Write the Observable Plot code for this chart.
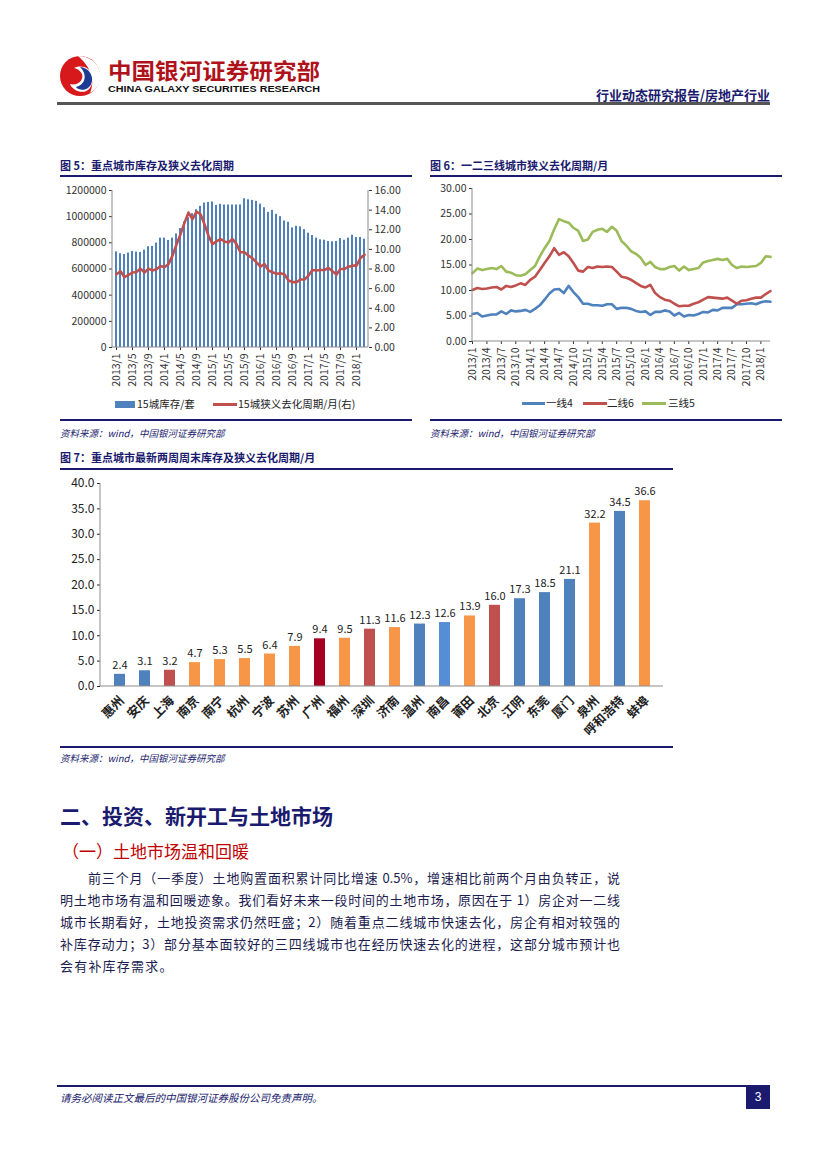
<!DOCTYPE html>
<html><head><meta charset="utf-8">
<script src="https://cdn.jsdelivr.net/npm/d3@7"></script>
<script src="https://cdn.jsdelivr.net/npm/@observablehq/plot@0.6"></script>
<style>
body{margin:0;background:#fff;}
#page{position:relative;width:827px;height:1169px;overflow:hidden;font-family:"Noto Sans CJK SC",sans-serif;background:#fff;}
.abs{position:absolute;white-space:nowrap;}
.ctitle{font-size:11px;font-weight:bold;color:#1a1a6e;line-height:14px;}
.hr{position:absolute;height:2px;background:#1a1a6e;}
.src{font-size:9.5px;font-style:italic;color:#1a1a6e;line-height:12px;}
.leg{font-size:10.5px;color:#222;line-height:12px;}
.para{position:absolute;left:60px;width:560px;font-size:13px;color:#1c1c50;line-height:16px;text-align:justify;text-align-last:justify;white-space:nowrap;}
</style></head>
<body><div id="page">

<svg class="abs" style="left:0;top:0" width="827" height="110">
  <g transform="translate(80,76)">
    <circle r="20" fill="#D7191C"/>
    <path d="M-2,-20 C22,-20 28,8 10,17 C16,4 10,-10 -2,-20 Z" fill="#fff"/>
    <path d="M-6,-8 C8,-14 18,0 10,12 C4,20 -8,14 -10,8 C-2,10 4,4 2,-2 C0,-6 -4,-8 -6,-8 Z" fill="#fff"/>
    <path d="M0,-9 C12,-8 16,6 8,12 C4,15 -2,14 -4,11 C4,9 6,2 4,-3 C3,-6 1,-8 0,-9 Z" fill="#1F3A93"/>
  </g>
  <text x="108" y="79" font-size="22" font-weight="bold" fill="#B0121B" textLength="212" lengthAdjust="spacingAndGlyphs" font-family="Noto Sans CJK SC">中国银河证券研究部</text>
  <text x="108" y="92" font-size="9.5" font-weight="bold" fill="#111" textLength="212" lengthAdjust="spacingAndGlyphs" font-family="Liberation Sans, Arial">CHINA GALAXY SECURITIES RESEARCH</text>
  <text x="770" y="100" font-size="13" font-weight="bold" fill="#1a1a6e" text-anchor="end" font-family="Noto Sans CJK SC">行业动态研究报告/房地产行业</text>
  <rect x="57" y="102" width="713" height="3" fill="#555"/>
</svg>

<div class="abs ctitle" style="left:60px;top:158px">图 5：重点城市库存及狭义去化周期</div>
<div class="hr" style="left:60px;top:175px;width:352px"></div>
<div class="abs" id="c5" style="left:55px;top:182px"></div>
<div class="abs" style="left:115px;top:401px;width:20px;height:7px;background:#4F81BD"></div>
<div class="abs leg" style="left:137px;top:398px">15城库存/套</div>
<div class="abs" style="left:213px;top:403px;width:24px;height:3px;background:#C0504D"></div>
<div class="abs leg" style="left:238px;top:398px">15城狭义去化周期/月(右)</div>
<div class="hr" style="left:60px;top:419px;width:352px"></div>
<div class="abs src" style="left:60px;top:427px">资料来源：wind，中国银河证券研究部</div>

<div class="abs ctitle" style="left:430px;top:158px">图 6：一二三线城市狭义去化周期/月</div>
<div class="hr" style="left:430px;top:175px;width:352px"></div>
<div class="abs" id="c6" style="left:425px;top:178px"></div>
<div class="abs" style="left:522px;top:402px;width:23px;height:3px;background:#4F81BD"></div>
<div class="abs leg" style="left:546px;top:397px">一线4</div>
<div class="abs" style="left:583px;top:402px;width:24px;height:3px;background:#C0504D"></div>
<div class="abs leg" style="left:607px;top:397px">二线6</div>
<div class="abs" style="left:642px;top:402px;width:24px;height:3px;background:#9BBB59"></div>
<div class="abs leg" style="left:668px;top:397px">三线5</div>
<div class="hr" style="left:430px;top:419px;width:352px"></div>
<div class="abs src" style="left:430px;top:427px">资料来源：wind，中国银河证券研究部</div>

<div class="abs ctitle" style="left:60px;top:450px">图 7：重点城市最新两周周末库存及狭义去化周期/月</div>
<div class="hr" style="left:60px;top:468px;width:613px"></div>
<div class="abs" id="c7" style="left:55px;top:474px"></div>
<div class="hr" style="left:60px;top:746px;width:613px"></div>
<div class="abs src" style="left:60px;top:752px">资料来源：wind，中国银河证券研究部</div>

<div class="abs" style="left:60px;top:801px;font-size:21px;font-weight:bold;color:#1a1a6e;line-height:28px">二、投资、新开工与土地市场</div>
<div class="abs" style="left:62px;top:839px;font-size:17px;color:#C00000;line-height:24px">（一）土地市场温和回暖</div>
<div class="para" style="top:870px;left:88px;width:532px">前三个月（一季度）土地购置面积累计同比增速 0.5%，增速相比前两个月由负转正，说</div>
<div class="para" style="top:892px">明土地市场有温和回暖迹象。我们看好未来一段时间的土地市场，原因在于 1）房企对一二线</div>
<div class="para" style="top:914px">城市长期看好，土地投资需求仍然旺盛；2）随着重点二线城市快速去化，房企有相对较强的</div>
<div class="para" style="top:936px">补库存动力；3）部分基本面较好的三四线城市也在经历快速去化的进程，这部分城市预计也</div>
<div class="para" style="top:958px;width:auto;text-align-last:auto;letter-spacing:1.2px">会有补库存需求。</div>

<div class="hr" style="left:57px;top:1085px;width:713px"></div>
<div class="abs" style="left:60px;top:1090px;font-size:10.5px;font-style:italic;color:#1a1a6e">请务必阅读正文最后的中国银河证券股份公司免责声明。</div>
<div class="abs" style="left:746px;top:1085px;width:24px;height:24px;background:#1a1a6e;color:#fff;font-size:12px;text-align:center;line-height:24px;font-family:Liberation Sans,Arial">3</div>

</div>
<script>
// ---------- Data ----------
const months = [];
for (let y = 2013; y <= 2018; y++) for (let m = 1; m <= 12; m++) { if (y === 2018 && m > 3) break; months.push(y + "/" + m); }

const inventory15 = [731000,717000,711000,722000,734000,729000,727000,744000,770000,772000,798000,836000,836000,818000,836000,868000,909000,960000,993000,1023000,1053000,1079000,1104000,1109000,1112000,1086000,1094000,1089000,1089000,1089000,1089000,1090000,1137000,1129000,1124000,1117000,1096000,1068000,1033000,1048000,1018000,1000000,967000,957000,914000,927000,922000,901000,874000,856000,836000,823000,820000,810000,808000,810000,833000,820000,836000,858000,841000,841000,828000];
const cycle15 = [7.47,7.77,7.16,7.4,7.64,7.7,8.04,7.64,8.04,7.84,7.97,8.3,8.18,8.5,9.36,10.5,11.55,12.7,13.75,13.07,13.85,13.58,12.57,11.39,10.54,10.81,11.05,10.81,10.71,11.05,10.54,9.7,9.7,9.36,9.09,8.68,8.24,8.51,7.84,7.67,7.5,7.57,7.43,6.82,6.66,6.66,6.93,6.93,7.33,7.9,7.84,7.9,7.9,8.11,7.77,7.43,8.0,8.0,8.24,8.34,8.34,9.12,9.46];

const tier1 = [5.4,5.6,4.9,5.1,5.3,5.3,5.9,5.4,6.1,5.9,6.0,6.2,5.8,6.4,7.1,8.2,9.4,10.2,10.3,9.5,10.9,9.7,8.7,7.4,7.4,7.1,7.1,7.0,7.3,7.3,6.4,6.6,6.6,6.4,6.0,5.8,5.9,5.2,5.8,5.8,6.1,5.9,5.1,5.6,4.9,5.2,5.1,5.4,5.8,5.7,6.2,6.1,6.6,6.6,6.6,7.3,7.3,7.4,7.5,7.3,7.7,7.9,7.8];
const tier2 = [10.1,10.5,10.3,10.4,10.6,10.7,10.2,10.9,10.7,11.0,11.4,11.1,12.1,12.7,14.0,15.4,16.7,18.3,17.0,17.5,16.7,15.4,13.9,13.7,14.6,14.4,14.7,14.6,14.7,14.6,13.7,12.7,12.5,12.1,11.5,10.9,10.6,11.1,9.5,8.7,8.2,8.0,7.4,6.9,7.0,7.0,7.4,7.7,8.2,8.7,8.6,8.5,8.4,8.6,8.0,7.4,8.0,8.1,8.4,8.6,8.6,9.3,9.9];
const tier3 = [13.4,14.3,14.0,14.2,14.4,14.2,14.8,13.7,13.5,13.0,12.9,13.2,14.0,14.8,16.7,18.3,19.7,22.0,24.0,23.6,23.3,22.3,21.7,19.7,20.0,21.5,21.9,22.1,21.5,22.5,21.7,19.7,18.8,17.7,17.2,16.4,15.0,15.6,14.6,14.2,14.2,14.6,14.8,13.9,14.7,14.0,14.2,14.4,15.5,15.8,16.0,16.2,16.0,16.2,15.0,14.4,14.7,14.6,14.7,14.8,15.4,16.7,16.6];

const cities = ["惠州","安庆","上海","南京","南宁","杭州","宁波","苏州","广州","福州","深圳","济南","温州","南昌","莆田","北京","江阴","东莞","厦门","泉州","呼和浩特","蚌埠"];
const cityCycle = [2.4,3.1,3.2,4.7,5.3,5.5,6.4,7.9,9.4,9.5,11.3,11.6,12.3,12.6,13.9,16.0,17.3,18.5,21.1,32.2,34.5,36.6];
const cityGroup = ["B","B","R","O","O","O","O","O","D","O","R","O","B","L","O","R","B","B","B","O","B","O"];

const font = "Noto Sans CJK SC, sans-serif";

function frameLines(sides) {
  return (index, scales, values, dim) => {
    const g = d3.create("svg:g").attr("stroke", "#8c8c8c").attr("stroke-width", 1);
    const x0 = dim.marginLeft, x1 = dim.width - dim.marginRight, y0 = dim.marginTop, y1 = dim.height - dim.marginBottom;
    if (sides.includes("l")) g.append("line").attr("x1", x0).attr("x2", x0).attr("y1", y0).attr("y2", y1);
    if (sides.includes("r")) g.append("line").attr("x1", x1).attr("x2", x1).attr("y1", y0).attr("y2", y1);
    if (sides.includes("b")) g.append("line").attr("x1", x0).attr("x2", x1).attr("y1", y1).attr("y2", y1);
    return g.node();
  };
}

// ---------- Chart 5 ----------
const k5 = 75000;
const d5 = months.map((m, i) => ({m, inv: inventory15[i], cyc: cycle15[i]}));
const c5 = Plot.plot({
  width: 360, height: 217, marginLeft: 57, marginRight: 47, marginTop: 8, marginBottom: 52,
  style: {fontFamily: font, fontSize: "10.5px", color: "#333", background: "transparent", overflow: "visible"},
  x: {type: "band", domain: months, paddingInner: 0.42, paddingOuter: 0.2, axis: null},
  y: {domain: [0, 1200000], axis: null},
  marks: [
    Plot.barY(d5, {x: "m", y: "inv", fill: "#4F81BD"}),
    Plot.line(d5, {x: "m", y: d => d.cyc * k5, stroke: "#C0504D", strokeWidth: 2.6}),
    Plot.axisY({anchor: "left", ticks: d3.range(0, 1200001, 200000), tickFormat: d3.format("d"), tickSize: 3, tickPadding: 3, label: null}),
    Plot.axisY({anchor: "right", ticks: d3.range(0, 17, 2).map(v => v * k5), tickFormat: d => (d / k5).toFixed(2), tickSize: 3, tickPadding: 3, label: null}),
    Plot.axisX({ticks: months.filter((d, i) => i % 4 === 0), tickRotate: -90, tickSize: 3, tickPadding: 3, label: null}),
    frameLines("lrb")
  ]
});
document.getElementById("c5").appendChild(c5);

// ---------- Chart 6 ----------
const d6 = [];
months.forEach((m, i) => {
  d6.push({m, s: "一线4", v: tier1[i]});
  d6.push({m, s: "二线6", v: tier2[i]});
  d6.push({m, s: "三线5", v: tier3[i]});
});
const c6 = Plot.plot({
  width: 360, height: 218, marginLeft: 47, marginRight: 15, marginTop: 10, marginBottom: 55,
  style: {fontFamily: font, fontSize: "10.5px", color: "#333", background: "transparent", overflow: "visible"},
  x: {type: "point", domain: months, padding: 0, axis: null},
  y: {domain: [0, 30], axis: null},
  color: {domain: ["一线4", "二线6", "三线5"], range: ["#4F81BD", "#C0504D", "#9BBB59"]},
  marks: [
    Plot.line(d6, {x: "m", y: "v", z: "s", stroke: "s", strokeWidth: 2.6}),
    Plot.axisY({anchor: "left", ticks: d3.range(0, 31, 5), tickFormat: d => d.toFixed(2), tickSize: 3, tickPadding: 3, label: null}),
    Plot.axisX({ticks: months.filter((d, i) => i % 3 === 0), tickRotate: -90, tickSize: 3, tickPadding: 3, label: null}),
    frameLines("lb")
  ]
});
document.getElementById("c6").appendChild(c6);

// ---------- Chart 7 ----------
const d7 = cities.map((c, i) => ({c, v: cityCycle[i], g: cityGroup[i]}));
const c7 = Plot.plot({
  width: 620, height: 272, marginLeft: 45, marginRight: 12, marginTop: 9, marginBottom: 60,
  style: {fontFamily: font, fontSize: "12px", color: "#222", background: "transparent", overflow: "visible"},
  x: {type: "band", domain: cities, paddingInner: 0.58, paddingOuter: 0.3, axis: null},
  y: {domain: [0, 40], axis: null},
  color: {domain: ["B", "O", "R", "D", "L"], range: ["#4F81BD", "#F79646", "#C0504D", "#A50021", "#558ED5"]},
  marks: [
    Plot.barY(d7, {x: "c", y: "v", fill: "g"}),
    Plot.text(d7, {x: "c", y: "v", text: d => d.v.toFixed(1), dy: -9, fontSize: 11, fill: "#222"}),
    Plot.axisY({anchor: "left", ticks: d3.range(0, 41, 5), tickFormat: d => d.toFixed(1), tickSize: 3, tickPadding: 3, label: null}),
    Plot.axisX({tickRotate: -45, tickSize: 0, tickPadding: 4, dy: 8, dx: 2, label: null, fontWeight: "bold", fontSize: 12.5}),
    frameLines("lb")
  ]
});
document.getElementById("c7").appendChild(c7);
</script>
</body></html>
